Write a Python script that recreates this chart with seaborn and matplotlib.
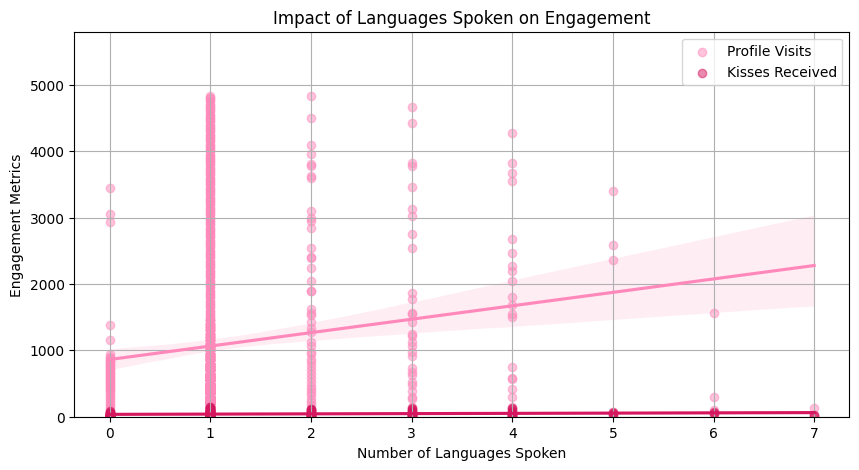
import numpy as np
import pandas as pd
import matplotlib
matplotlib.use('Agg')
import matplotlib.pyplot as plt
import seaborn as sns

# profile visits, one list per number of languages
visits_0 = [3440, 3050, 2930, 1375, 1160, 940,
            900, 880, 860, 840, 820, 800, 780, 760, 740, 720,
            700, 680, 660, 640, 620, 600, 580, 560, 540, 520,
            500, 480, 460, 440, 420, 400, 370, 340, 310, 280,
            250, 220, 190, 160, 130, 100, 70, 40, 20, 0]

# the 1-language column is solid: visit levels and how many users sit at each
visits_1_levels = [0, 50, 100, 150, 200, 250, 300, 350, 400, 450,
                   500, 550, 600, 650, 700, 750, 800, 850, 900, 950,
                   1000, 1050, 1100, 1150, 1200, 1250, 1300, 1350, 1400, 1450,
                   1500, 1550, 1600, 1650, 1700, 1750, 1800, 1850, 1900, 1950,
                   2000, 2050, 2100, 2150, 2200, 2250, 2300, 2350, 2400, 2450,
                   2500, 2550, 2600, 2650, 2700, 2750, 2800, 2850, 2900, 2950,
                   3000, 3050, 3100, 3150, 3200, 3250, 3300, 3350, 3400, 3450,
                   3500, 3550, 3600, 3650, 3700, 3750, 3800, 3850, 3900, 3950,
                   4000, 4050, 4100, 4150, 4200, 4250, 4300, 4350, 4400, 4450,
                   4500, 4550, 4600, 4650, 4700, 4750, 4800, 4830]
visits_1_counts = [38, 38, 35, 33, 30, 28, 25, 23, 21, 20,
                   19, 18, 16, 15, 14, 13, 11, 10, 10, 9,
                   9, 8, 8, 6, 6, 6, 5, 5, 5, 4,
                   2, 2, 2, 2, 2, 2, 2, 2, 2, 2,
                   2, 2, 2, 2, 2, 2, 2, 2, 2, 2,
                   2, 2, 2, 2, 2, 2, 2, 2, 2, 2,
                   2, 2, 2, 2, 2, 2, 2, 2, 2, 2,
                   2, 2, 2, 2, 2, 2, 2, 2, 2, 2,
                   2, 2, 2, 2, 2, 2, 2, 2, 2, 2,
                   2, 2, 2, 2, 2, 2, 2, 1]

visits_2 = [4830, 4500, 4090, 3960, 3810, 3780, 3620, 3590, 3100, 2990,
            2950, 2850, 2540, 2400, 2390, 2240, 2040, 1900, 1890, 1620,
            1570, 1530, 1420, 1340, 1270, 1120, 1060, 980, 940,
            870, 820, 760, 700, 640, 590, 530, 470, 420, 370,
            320, 270, 220, 170, 120, 80, 40, 10]
visits_3 = [4670, 4430, 3820, 3780, 3460, 3130, 3020, 2750, 2540, 1870,
            1780, 1570, 1540, 1420, 1250, 1210, 1130, 1060, 980, 910,
            740, 680, 630, 530, 480, 380, 300, 260, 150, 60]
visits_4 = [4270, 3820, 3670, 3550, 2670, 2460, 2270, 2190, 2040, 1800,
            1690, 1540, 1500, 750, 590, 570, 420, 290, 150, 40, 10]
visits_5 = [3400, 2580, 2360, 60]
visits_6 = [1570, 300, 100]
visits_7 = [130, 20]

# kisses received, same grouping
kisses_0 = [80, 70, 60, 55, 50, 45, 40, 35, 30, 28, 25, 22, 20, 18, 15,
            12, 10, 8, 6, 5, 4, 3, 2, 1, 0]
kisses_1 = [150, 140, 130, 120, 110, 100, 95, 90, 85, 80, 75, 70, 65, 60,
            58, 55, 52, 50, 48, 45, 42, 40, 38, 36, 34, 32, 30, 28, 26, 24,
            22, 20, 18, 16, 15, 14, 12, 10, 9, 8, 7, 6, 5, 4, 3, 2, 1, 0,
            60, 50, 40, 30, 20, 10, 45, 35, 25, 15, 5, 0]
kisses_2 = [120, 110, 95, 85, 75, 65, 60, 55, 50, 45, 40, 35, 30, 25, 20,
            15, 10, 6, 3, 0]
kisses_3 = [135, 120, 100, 85, 70, 60, 55, 45, 40, 30, 25, 20, 10, 5, 0]
kisses_4 = [130, 110, 90, 75, 60, 50, 40, 30, 20, 15, 8, 0]
kisses_5 = [75, 60, 40, 20]
kisses_6 = [75, 60, 40]
kisses_7 = [30, 10]

visits_1 = list(np.repeat(visits_1_levels, visits_1_counts))
visit_groups = [visits_0, visits_1, visits_2, visits_3, visits_4, visits_5, visits_6, visits_7]
kiss_groups = [kisses_0, kisses_1, kisses_2, kisses_3, kisses_4, kisses_5, kisses_6, kisses_7]

visits_df = pd.DataFrame({
    'languages': [k for k, g in enumerate(visit_groups) for _ in g],
    'value': [v for g in visit_groups for v in g],
})
kisses_df = pd.DataFrame({
    'languages': [k for k, g in enumerate(kiss_groups) for _ in g],
    'value': [v for g in kiss_groups for v in g],
})

plt.figure(figsize=(10, 5))
sns.regplot(data=visits_df, x='languages', y='value', color='#ff88bb',
            scatter_kws={'alpha': 0.5}, label='Profile Visits', seed=0)
sns.regplot(data=kisses_df, x='languages', y='value', color='#d6175f',
            scatter_kws={'alpha': 0.5}, label='Kisses Received', seed=0)
plt.title('Impact of Languages Spoken on Engagement')
plt.xlabel('Number of Languages Spoken')
plt.ylabel('Engagement Metrics')
plt.ylim(0, 5800)
plt.legend()
plt.grid(True)
plt.savefig('out.png', dpi=100, bbox_inches='tight')
